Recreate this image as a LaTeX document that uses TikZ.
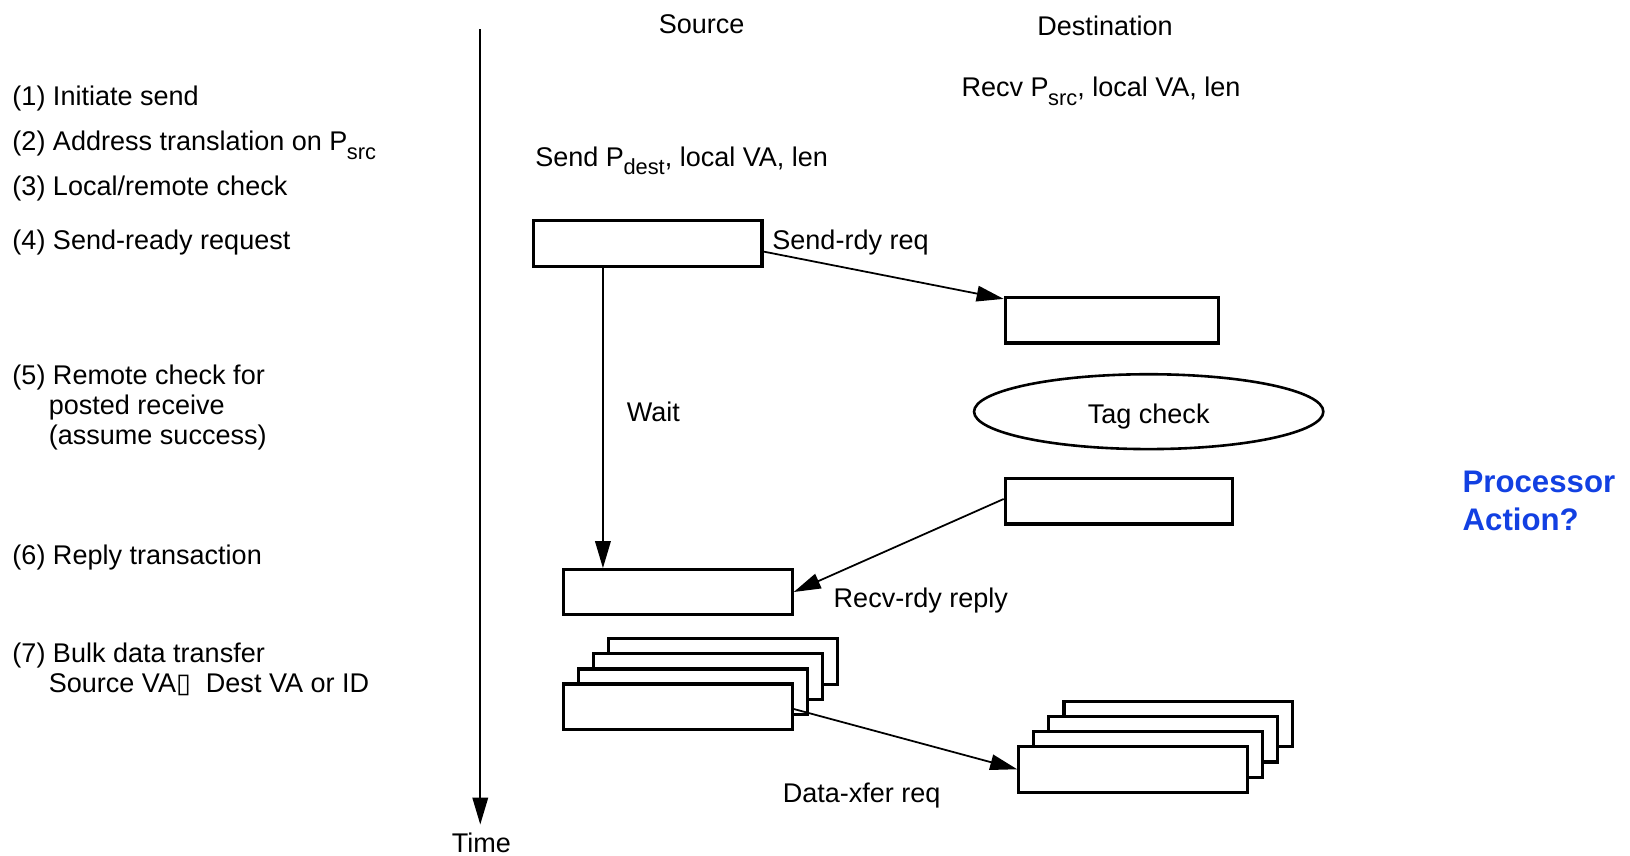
\documentclass[tikz,border=0pt]{standalone}
\usepackage{fontspec}
\setmainfont{Liberation Sans}
\newfontfamily\dejavu{DejaVu Sans}
\usetikzlibrary{arrows.meta,shapes.geometric}
\definecolor{procblue}{RGB}{18,64,226}
\newcommand{\sbs}[1]{\kern-0.5pt\raisebox{-8pt}{\fontsize{21}{21}\selectfont #1}}
\tikzset{
  txt/.style={inner sep=0pt, outer sep=0pt, font=\fontsize{26}{30}\selectfont, anchor=base west},
  ctxt/.style={txt, anchor=base},
  bx/.style={draw, line width=3pt, minimum width=220pt, minimum height=44pt, inner sep=0pt, fill=white},
  arr/.style={line width=1.7pt, -{Triangle[length=26pt,width=15pt]}},
}
\begin{document}
\begin{tikzpicture}[x=1pt,y=-1pt]
\useasboundingbox (0,0) rectangle (1568,823);

% headings
\node[ctxt] (src) at (675,32) {Source};
\node[ctxt] (dst) at (1063,34) {Destination};
\node[txt] (recv) at (925,93) {Recv P\sbs{src}, local VA, len};
\node[txt] (send) at (515,160) {Send P\sbs{dest}, local VA, len};

% left column
\node[txt] (l1) at (12,101) {(1) Initiate send};
\node[txt] (l2) at (12,145) {(2) Address translation on P\sbs{src}};
\node[txt] (l3) at (12,188) {(3) Local/remote check};
\node[txt] (l4) at (12,240) {(4) Send-ready request};
\node[txt] (l5a) at (12,370) {(5) Remote check for};
\node[txt] (l5b) at (47,399) {posted receive};
\node[txt] (l5c) at (47,428) {(assume success)};
\node[txt] (l6) at (12,543) {(6) Reply transaction};
\node[txt] (l7a) at (12,637) {(7) Bulk data transfer};
\node[txt] (l7b) at (47,666) {Source VA{\dejavu ▯}\ \ Dest VA or ID};

% time axis
\coordinate (t0) at (462,28);
\node[ctxt] (time) at (463,820) {Time};
\draw[arr] (t0) -- ([yshift=8pt]time.north -| t0);

% boxes
\node[bx] (A) at (623,234) {};
\node[bx, minimum width=205pt] (B) at (1069.5,308) {};
\node[draw, ellipse, line width=2.5pt, minimum width=336pt, minimum height=72pt, inner sep=0pt,
      text height=28pt, text depth=5.5pt, font=\fontsize{26}{30}\selectfont] (tag) at (1105,396) {Tag check};
\node[bx, minimum width=219pt] (C) at (1076.5,482) {};
\node[bx, minimum height=43pt] (D) at (652,569.5) {};

\foreach \k in {3,2,1,0} {
  \node[bx] (S\k) at ({652+14.5*\k},{680-14.5*\k}) {};
}
\foreach \k in {3,2,1,0} {
  \node[bx] (T\k) at ({1090+14.5*\k},{740-14.5*\k}) {};
}

% labels
\node[txt] (lsr) at (743,240) {Send-rdy req};
\node[txt] (lwait) at (603,405) {Wait};
\node[txt] (lrr) at (802,584) {Recv-rdy reply};
\node[txt] (ldx) at (753,772) {Data-xfer req};

% connectors
\draw[arr] ([yshift=-8pt]A.east) -- ([yshift=-3pt]B.north west);
\draw[arr] ([xshift=-43pt]A.south) -- ([xshift=-43pt]A.south |- D.north);
\draw[arr] ([yshift=2pt]C.west) -- (D.east);
\draw[arr] ([yshift=-2pt]S0.east) -- (T0.west);

% processor action
\node[txt, font=\fontsize{30}{34}\selectfont\bfseries, text=procblue] (pa1) at (1407,474) {Processor};
\node[txt, font=\fontsize{30}{34}\selectfont\bfseries, text=procblue] (pa2) at (1407,510) {Action?};
\end{tikzpicture}
\end{document}
